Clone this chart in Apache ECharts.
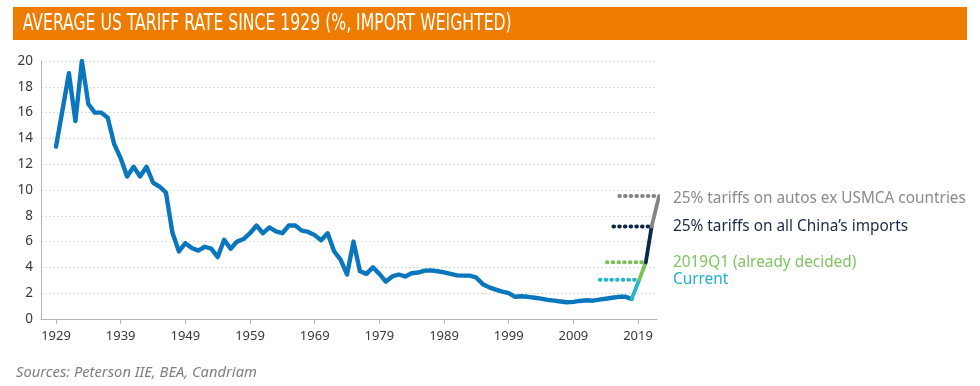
<!DOCTYPE html>
<html><head><meta charset="utf-8">
<script src="https://cdn.jsdelivr.net/npm/echarts@6/dist/echarts.min.js"></script>
<style>html,body{margin:0;padding:0;background:#fff}#c{width:980px;height:386px}</style>
</head><body><div id="c"></div>
<script>
const years = [1929,1930,1931,1932,1933,1934,1935,1936,1937,1938,1939,1940,1941,1942,1943,1944,1945,1946,1947,1948,1949,1950,1951,1952,1953,1954,1955,1956,1957,1958,1959,1960,1961,1962,1963,1964,1965,1966,1967,1968,1969,1970,1971,1972,1973,1974,1975,1976,1977,1978,1979,1980,1981,1982,1983,1984,1985,1986,1987,1988,1989,1990,1991,1992,1993,1994,1995,1996,1997,1998,1999,2000,2001,2002,2003,2004,2005,2006,2007,2008,2009,2010,2011,2012,2013,2014,2015,2016,2017,2018];
const tariff = [13.37,16.2,19.05,15.35,20.0,16.67,16.0,16.0,15.6,13.55,12.46,11.05,11.8,11.05,11.8,10.58,10.27,9.8,6.7,5.24,5.88,5.5,5.3,5.6,5.45,4.8,6.14,5.45,6.0,6.2,6.65,7.25,6.65,7.1,6.8,6.65,7.25,7.25,6.85,6.75,6.5,6.1,6.65,5.25,4.6,3.45,6.0,3.7,3.5,4.0,3.5,2.9,3.3,3.45,3.3,3.55,3.6,3.75,3.77,3.7,3.62,3.5,3.38,3.36,3.36,3.2,2.7,2.45,2.28,2.12,2.0,1.72,1.76,1.72,1.65,1.58,1.48,1.42,1.36,1.3,1.33,1.4,1.45,1.42,1.5,1.57,1.65,1.72,1.73,1.55];
const xTickLabels = [1929,1939,1949,1959,1969,1979,1989,1999,2009,2019];
const scenarioNames = ['Current','2019Q1 (already decided)','25% tariffs on all China\u2019s imports','25% tariffs on autos ex USMCA countries'];
const scenarioX = [2018.0, 2019.2, 2020.2, 2021.1, 2022.25];
const scenarioLevel = [1.55, 3.05, 4.4, 7.17, 9.53];
const dotStartX = [2013.1, 2014.2, 2015.2, 2016.1];

const lineColors = ['#22b5cc','#7cc05a','#0d2847','#858585'];
const textColors = ['#1fb2cc','#7dc462','#1b2a46','#8a8a8a'];
const blue = '#0a76bd';

const chart = echarts.init(document.getElementById('c'), null, {renderer:'canvas'});
const series = [{
  type:'line', data: years.map((y,i)=>[y, tariff[i]]), symbol:'none',
  lineStyle:{color:blue, width:4.4, join:'round', cap:'round'}, z:3
}];
for (let i=0;i<4;i++){
  series.push({type:'line', symbol:'none', clip:false, z:4,
    data:[[scenarioX[i],scenarioLevel[i]],[scenarioX[i+1],scenarioLevel[i+1]]],
    lineStyle:{color:lineColors[i], width:3.8, cap:'round'}});
  series.push({type:'line', symbol:'none', clip:false, z:2,
    data:[[dotStartX[i],scenarioLevel[i+1]],[scenarioX[i+1],scenarioLevel[i+1]]],
    lineStyle:{color:lineColors[i], width:4, type:[0.6,5.1], cap:'round'}});
}
chart.setOption({
  animation:false,
  grid:{left:41, right:323, top:61, bottom:67},
  xAxis:{type:'value', min:1926.68, max:2021.93,
    axisLine:{show:true, lineStyle:{color:'#b5b5b5', width:1}},
    axisTick:{show:true, customValues:xTickLabels, length:5, lineStyle:{color:'#b5b5b5'}},
    axisLabel:{customValues:xTickLabels, formatter:(v)=>String(Math.round(v)), color:'#3a3a3a', fontSize:13, fontFamily:'Noto Sans', margin:11},
    splitLine:{show:false}},
  yAxis:{type:'value', min:0, max:20, interval:2,
    axisLine:{show:true, lineStyle:{color:'#b5b5b5'}},
    axisTick:{show:false},
    axisLabel:{color:'#3a3a3a', fontSize:13.5, fontFamily:'Noto Sans', margin:8},
    splitLine:{lineStyle:{color:'#cfcfcf', type:[1.5,2.5], width:1}}},
  series
});

const ctx = document.createElement('canvas').getContext('2d');
function measure(text, font){ ctx.font = font; return ctx.measureText(text).width; }
const titleText = 'AVERAGE US TARIFF RATE SINCE 1929 (%, IMPORT WEIGHTED)';
const titleFamily = "'Liberation Sans Narrow','DejaVu Sans Condensed','Liberation Sans',sans-serif";
const titleFont = '23px ' + titleFamily;
const titleScale = 489 / measure(titleText, titleFont);
const annFamily = "'Noto Sans'";
const annSize = 16 * 293 / measure(scenarioNames[3], '16px ' + annFamily);
const srcText = 'Sources: Peterson IIE, BEA, Candriam';
const srcSize = 14 * 241 / measure(srcText, 'italic 14px ' + annFamily);

const graphic = [
  {type:'rect', shape:{x:13, y:7, width:954, height:33}, style:{fill:'#ee7c00'}},
  {type:'text', x:22.7, y:24, scaleX:titleScale, style:{text:titleText, fill:'#fff', font:titleFont, textVerticalAlign:'middle'}},
  {type:'text', x:16, y:373, style:{text:srcText, fill:'#7f7f7f', font:'italic ' + srcSize.toFixed(2) + 'px ' + annFamily, textVerticalAlign:'middle'}}
];
const offs = [0, 0, 0, 3];
for (let i=0;i<4;i++){
  const p = chart.convertToPixel({gridIndex:0}, [2020, scenarioLevel[i+1]]);
  graphic.push({type:'text', x:673, y:p[1]+offs[i], style:{text:scenarioNames[i], fill:textColors[i], font:annSize.toFixed(2)+'px ' + annFamily, textVerticalAlign:'middle'}});
}
chart.setOption({graphic});
</script></body></html>
